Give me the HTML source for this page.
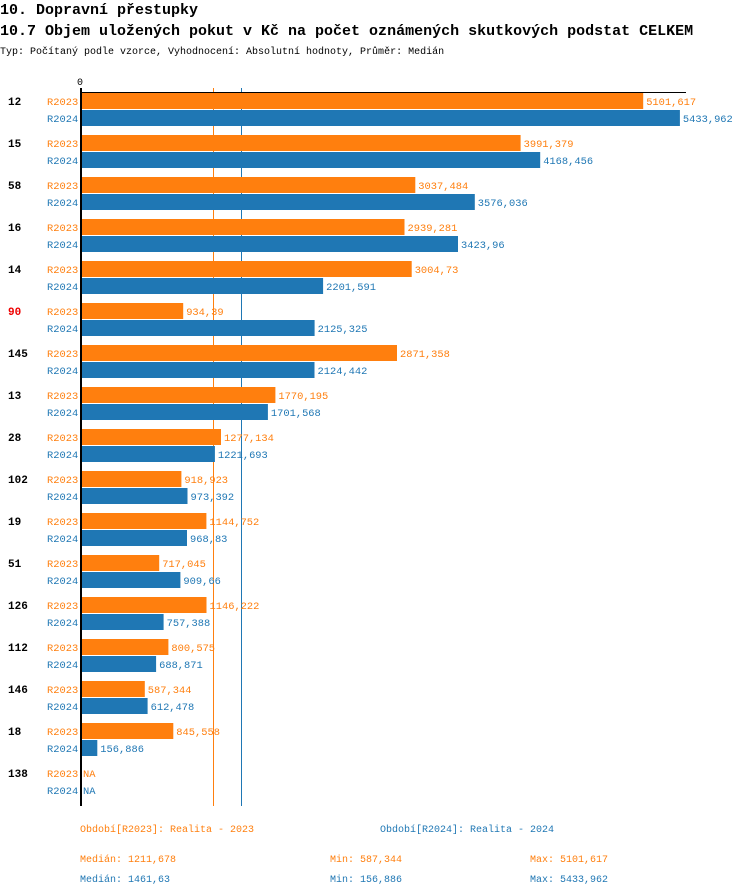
<!DOCTYPE html><html><head><meta charset="utf-8"><style>body{margin:0;background:#fff}svg{display:block}text{font-family:"Liberation Mono",monospace}</style></head><body>
<svg width="750" height="896" xmlns="http://www.w3.org/2000/svg">
<text x="0" y="14" font-size="15" font-weight="bold">10. Dopravní přestupky</text>
<text x="0" y="35" font-size="15" font-weight="bold">10.7 Objem uložených pokut v Kč na počet oznámených skutkových podstat CELKEM</text>
<text x="0" y="54" font-size="10">Typ: Počítaný podle vzorce, Vyhodnocení: Absolutní hodnoty, Průměr: Medián</text>
<text x="77" y="85" font-size="10">0</text>
<line x1="213.5" y1="88" x2="213.5" y2="806" stroke="#ff7f0e" stroke-width="1"/>
<line x1="241.5" y1="88" x2="241.5" y2="806" stroke="#1f77b4" stroke-width="1"/>
<g id="bars" font-size="10.4"></g>
<line x1="80" y1="92.5" x2="686" y2="92.5" stroke="#000" stroke-width="1"/>
<line x1="81" y1="88" x2="81" y2="806" stroke="#000" stroke-width="2"/>
<g font-size="10">
<text x="80" y="832" fill="#ff7f0e">Období[R2023]: Realita - 2023</text>
<text x="380" y="832" fill="#1f77b4">Období[R2024]: Realita - 2024</text>
<text x="80" y="862" fill="#ff7f0e">Medián: 1211,678</text>
<text x="330" y="862" fill="#ff7f0e">Min: 587,344</text>
<text x="530" y="862" fill="#ff7f0e">Max: 5101,617</text>
<text x="80" y="882" fill="#1f77b4">Medián: 1461,63</text>
<text x="330" y="882" fill="#1f77b4">Min: 156,886</text>
<text x="530" y="882" fill="#1f77b4">Max: 5433,962</text>
</g>
</svg>
<script>
var d=[["12",5101.617,"5101,617",5433.962,"5433,962"],["15",3991.379,"3991,379",4168.456,"4168,456"],["58",3037.484,"3037,484",3576.036,"3576,036"],["16",2939.281,"2939,281",3423.96,"3423,96"],["14",3004.73,"3004,73",2201.591,"2201,591"],["90",934.39,"934,39",2125.325,"2125,325"],["145",2871.358,"2871,358",2124.442,"2124,442"],["13",1770.195,"1770,195",1701.568,"1701,568"],["28",1277.134,"1277,134",1221.693,"1221,693"],["102",918.923,"918,923",973.392,"973,392"],["19",1144.752,"1144,752",968.83,"968,83"],["51",717.045,"717,045",909.66,"909,66"],["126",1146.222,"1146,222",757.388,"757,388"],["112",800.575,"800,575",688.871,"688,871"],["146",587.344,"587,344",612.478,"612,478"],["18",845.558,"845,558",156.886,"156,886"],["138",null,"NA",null,"NA"]];
var s="",k=0.1104;
d.forEach(function(r,i){var y=93+42*i;
s+='<text x="8" y="'+(y+12)+'" font-size="11" font-weight="bold" fill="'+(r[0]=="90"?"#e00":"#000")+'">'+r[0]+'</text>';
[[r[1],r[2],"#ff7f0e","R2023",y],[r[3],r[4],"#1f77b4","R2024",y+17]].forEach(function(b){
s+='<text x="47" y="'+(b[4]+12)+'" fill="'+b[2]+'">'+b[3]+'</text>';
var w=b[0]==null?0:b[0]*k;
if(w)s+='<rect x="80" y="'+b[4]+'" width="'+w.toFixed(1)+'" height="16" fill="'+b[2]+'"/>';
s+='<text x="'+(83+w).toFixed(1)+'" y="'+(b[4]+12)+'" fill="'+b[2]+'">'+b[1]+'</text>';});});
document.getElementById("bars").innerHTML=s;
</script>
</body></html>
